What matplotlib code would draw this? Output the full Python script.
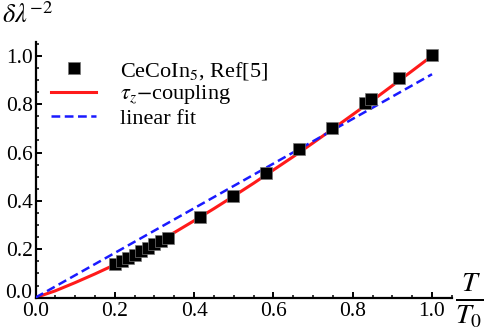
import numpy as np
import matplotlib
matplotlib.use("Agg")
import matplotlib.pyplot as plt
from matplotlib.ticker import MultipleLocator

plt.rcParams['font.family'] = ['Liberation Serif', 'DejaVu Serif']
plt.rcParams['mathtext.fontset'] = 'stix'

# CeCoIn5 data (T/T0, delta lambda^-2)
t_data = [0.200, 0.217, 0.233, 0.250, 0.267, 0.283, 0.300, 0.317, 0.333,
          0.415, 0.498, 0.582, 0.664, 0.748, 0.832, 0.845, 0.916, 1.000]
y_data = [0.138, 0.150, 0.163, 0.177, 0.191, 0.205, 0.220, 0.234, 0.247,
          0.332, 0.420, 0.517, 0.614, 0.703, 0.804, 0.821, 0.910, 1.005]

# tau_z-coupling curve
t_curve = [0.0, 0.05, 0.10, 0.15, 0.20, 0.25, 0.30, 0.35, 0.40, 0.45, 0.50,
           0.55, 0.60, 0.65, 0.70, 0.75, 0.80, 0.85, 0.90, 0.95, 1.00]
y_curve = [0.0, 0.028, 0.062, 0.098, 0.136, 0.178, 0.222, 0.269, 0.318, 0.368, 0.420,
           0.473, 0.528, 0.583, 0.640, 0.698, 0.757, 0.816, 0.877, 0.938, 1.000]

# linear fit
t_fit = [0.0, 1.0]
y_fit = [0.0, 0.924]

fig = plt.figure(figsize=(4.98, 3.34), dpi=100)
ax = fig.add_axes([0.0713, 0.109, 0.836, 0.765])

ax.plot(t_curve, y_curve, color='#ff1a1a', lw=2.2, label=r'$\tau_z$$-$coupling', zorder=2)
ax.plot(t_fit, y_fit, color='#1a1aff', lw=1.8, ls=(0, (3.5, 1.8)), label='linear fit', zorder=3)
ax.plot(t_data, y_data, 's', color='black', ms=8.5, mec='#777777', mew=0.5,
        label=r'CeCoIn$_5$, Ref[5]', zorder=4)

ax.set_xlim(0, 1.05)
ax.set_ylim(0, 1.057)
for s in ['top', 'right']:
    ax.spines[s].set_visible(False)
for s in ['left', 'bottom']:
    ax.spines[s].set_linewidth(1.6)

ax.xaxis.set_major_locator(MultipleLocator(0.2))
ax.xaxis.set_minor_locator(MultipleLocator(0.05))
ax.yaxis.set_major_locator(MultipleLocator(0.2))
ax.yaxis.set_minor_locator(MultipleLocator(0.05))
ax.tick_params(which='major', direction='in', length=4, width=1.4, labelsize=15.5)
ax.tick_params(axis='x', which='major', pad=3)
ax.tick_params(axis='y', which='major', pad=2)
ax.tick_params(which='minor', direction='in', length=2.5, width=1.1)
ax.set_xticklabels([f'{v:.1f}' for v in ax.get_xticks()])
yt = ax.get_yticks()
ax.set_yticklabels(['' if v == 0 else f'{v:.1f}' for v in yt])

# y "0.0" label placed by hand, a touch higher so it clears the x "0.0"
ax.annotate('0.0', xy=(0, 0), xycoords='axes fraction', xytext=(-2.5, 3),
            textcoords='offset points', ha='right', va='center', fontsize=15.5)

handles, labels = ax.get_legend_handles_labels()
order = [2, 0, 1]
ax.legend([handles[i] for i in order], [labels[i] for i in order],
          loc='upper left', bbox_to_anchor=(-0.01, 1.01), frameon=False,
          fontsize=16, handlelength=2.0, labelspacing=0.08, handletextpad=1.1)

fig.text(0.005, 0.955, r'$\delta\lambda^{-2}$', fontsize=19, va='center', ha='left')
fig.text(0.942, 0.1, r'$\frac{T}{T_0}$', fontsize=29, va='center', ha='center')

fig.savefig('out.png', dpi=100)
